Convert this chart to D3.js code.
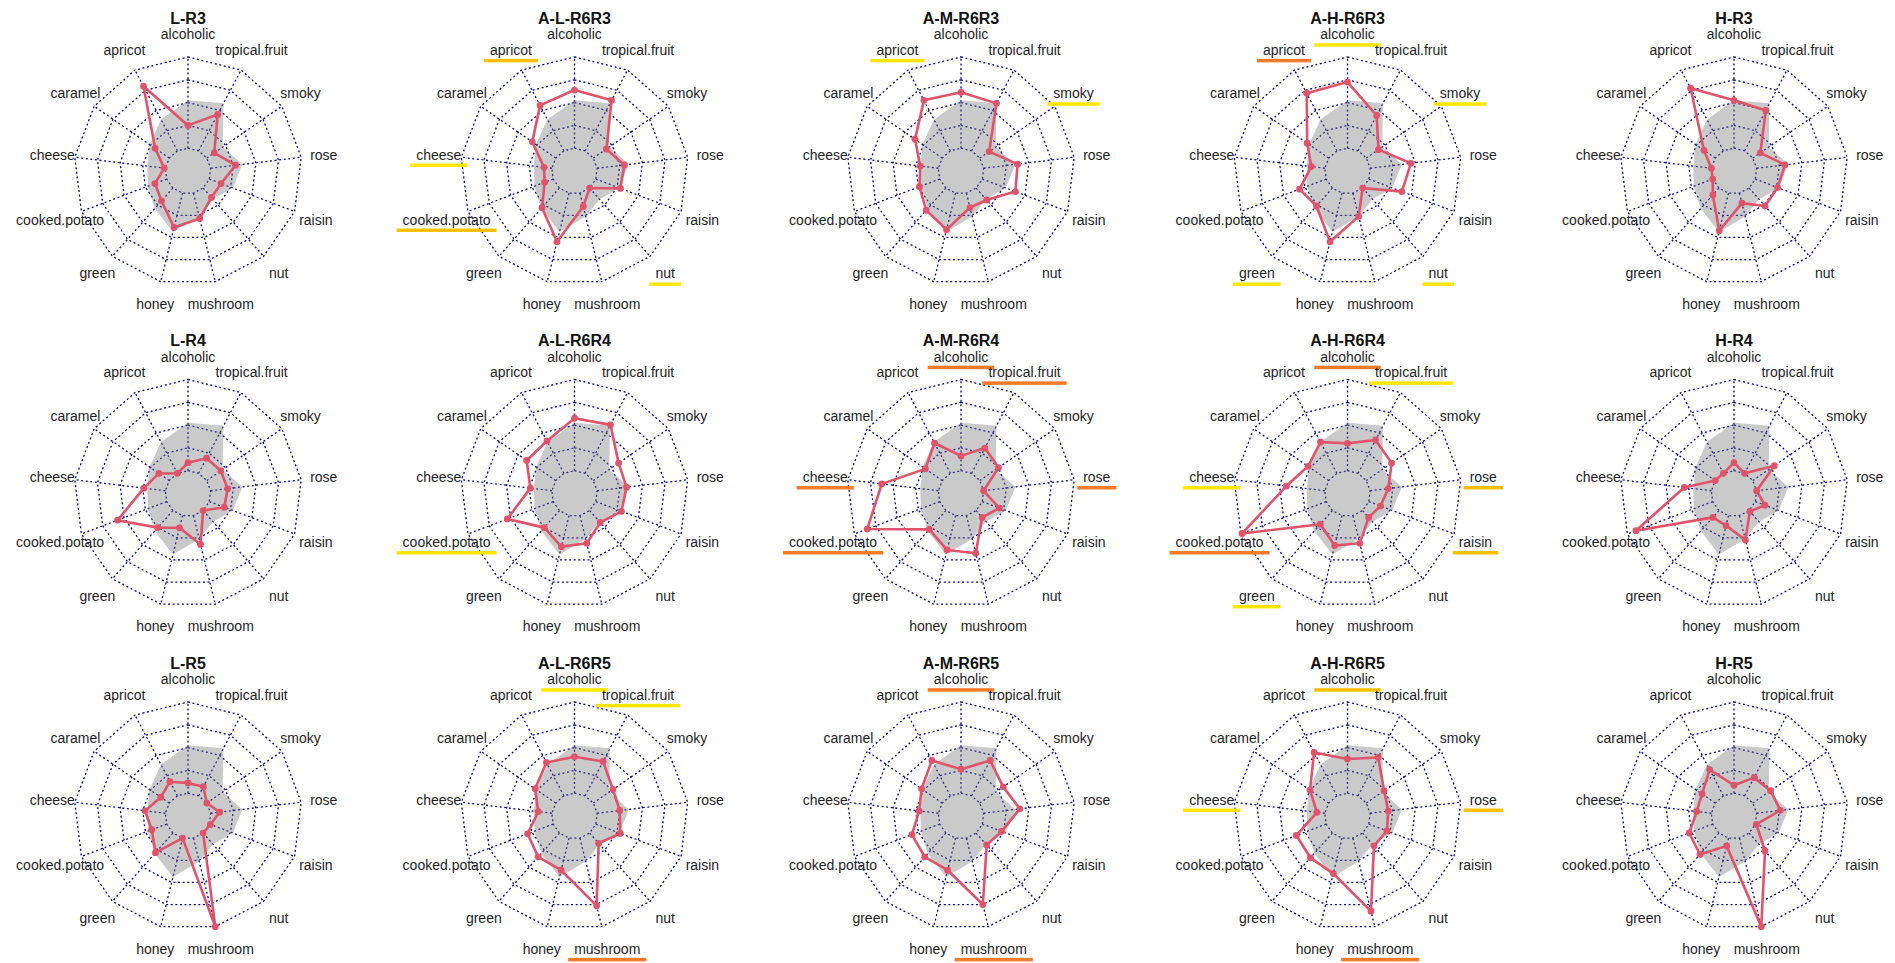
<!DOCTYPE html>
<html>
<head>
<meta charset="utf-8">
<script src="https://cdn.jsdelivr.net/npm/d3@7"></script>
<style>
  body { margin: 0; background: #fff; }
  text { font-family: "Liberation Sans", Arial, sans-serif; }
</style>
</head>
<body>
<svg width="1895" height="963"></svg>
<script>
// aroma axes, clockwise from the top
var axes = ["alcoholic", "tropical.fruit", "smoky", "rose", "raisin", "nut", "mushroom",
            "honey", "green", "cooked.potato", "cheese", "caramel", "apricot"];

var samples = ["L-R3", "A-L-R6R3", "A-M-R6R3", "A-H-R6R3", "H-R3",
               "L-R4", "A-L-R6R4", "A-M-R6R4", "A-H-R6R4", "H-R4",
               "L-R5", "A-L-R6R5", "A-M-R6R5", "A-H-R6R5", "H-R5"];

// grid levels (inner ring = 0, outer ring = 4)
var levels = [0, 1, 2, 3, 4];

// grey reference profile (same in every panel)
var reference = [2.1, 2.35, 0.85, 1.4, 1.1, 0.65, 1.05, 1.75, 1.2, 0.88, 0.8, 1.05, 1.55];

// red sample profiles
var lR3   = [1.0, 1.8, 0.4, 1.1, 0.55, 0.55, 1.15, 1.55, 0.75, 0.55, 0.05, 0.75, 3.2];
var alR3  = [2.55, 2.5, 0.7, 1.2, 1.15, 0.0, 0.6, 2.2, 1.15, 0.4, 0.35, 1.25, 2.25];
var amR3  = [2.45, 2.35, 0.5, 1.5, 1.55, 0.7, 0.65, 1.65, 1.3, 0.95, 0.8, 1.45, 2.5];
var ahR3  = [2.9, 1.75, 0.65, 1.8, 1.55, 0.0, 1.05, 2.2, 1.05, 1.25, 0.6, 1.15, 2.85];
var hR3   = [2.1, 2.0, 0.4, 1.25, 1.05, 1.05, 0.45, 1.7, 0.4, 0.0, 0.0, 0.6, 3.1];
var lR4   = [0.35, 0.75, 0.75, 0.75, 0.7, 0.0, 1.3, 0.55, 1.0, 2.3, 0.95, 0.55, 0.0];
var alR4  = [2.3, 2.4, 1.35, 1.3, 1.2, 0.7, 1.25, 1.4, 1.0, 2.15, 0.95, 1.55, 1.6];
var amR4  = [0.65, 1.25, 1.0, 0.0, 0.8, 0.4, 1.7, 1.55, 1.1, 3.4, 2.5, 0.9, 1.5];
var ahR4  = [1.2, 1.65, 1.35, 0.8, 0.55, 0.4, 1.25, 1.35, 0.8, 3.95, 1.7, 1.1, 1.55];
var hR4   = [0.35, 0.0, 1.15, 0.0, 0.45, 0.05, 1.1, 0.45, 0.4, 3.6, 1.2, 0.0, 0.0];
var lR5   = [0.45, 0.45, 0.0, 0.4, 0.05, 0.0, 4.0, 0.0, 1.15, 0.7, 0.9, 0.45, 0.7];
var alR5  = [1.6, 1.7, 1.05, 1.0, 1.15, 0.6, 3.05, 1.45, 1.4, 1.2, 0.6, 1.1, 1.65];
var amR5  = [1.05, 1.75, 1.25, 1.6, 0.9, 0.7, 3.0, 1.45, 1.4, 1.3, 0.85, 1.1, 1.75];
var ahR5  = [1.5, 1.9, 0.95, 0.8, 0.85, 0.75, 3.3, 1.6, 1.45, 1.4, 0.35, 1.0, 2.15];
var hR5   = [0.35, 0.9, 0.95, 1.05, 0.05, 1.05, 4.0, 0.35, 1.25, 1.1, 0.65, 0.7, 1.3];

var profiles = [lR3, alR3, amR3, ahR3, hR3, lR4, alR4, amR4, ahR4, hR4, lR5, alR5, amR5, ahR5, hR5];

// highlighted attributes: [panel, attribute, marker]
var highlights = [
  ["A-L-R6R3", "apricot", "gold"], ["A-L-R6R3", "cheese", "yellow"],
  ["A-L-R6R3", "cooked.potato", "gold"], ["A-L-R6R3", "nut", "yellow"],
  ["A-M-R6R3", "apricot", "yellow"], ["A-M-R6R3", "smoky", "yellow"],
  ["A-H-R6R3", "alcoholic", "yellow"], ["A-H-R6R3", "apricot", "orange"],
  ["A-H-R6R3", "smoky", "yellow"], ["A-H-R6R3", "green", "yellow"], ["A-H-R6R3", "nut", "yellow"],
  ["A-L-R6R4", "cooked.potato", "yellow"],
  ["A-M-R6R4", "alcoholic", "orange"], ["A-M-R6R4", "tropical.fruit", "orange"],
  ["A-M-R6R4", "rose", "orange"], ["A-M-R6R4", "cheese", "orange"], ["A-M-R6R4", "cooked.potato", "orange"],
  ["A-H-R6R4", "alcoholic", "orange"], ["A-H-R6R4", "tropical.fruit", "yellow"],
  ["A-H-R6R4", "cheese", "yellow"], ["A-H-R6R4", "rose", "gold"], ["A-H-R6R4", "raisin", "gold"],
  ["A-H-R6R4", "cooked.potato", "orange"], ["A-H-R6R4", "green", "yellow"],
  ["A-L-R6R5", "alcoholic", "yellow"], ["A-L-R6R5", "tropical.fruit", "yellow"], ["A-L-R6R5", "mushroom", "orange"],
  ["A-M-R6R5", "alcoholic", "orange"], ["A-M-R6R5", "mushroom", "orange"],
  ["A-H-R6R5", "alcoholic", "gold"], ["A-H-R6R5", "cheese", "yellow"],
  ["A-H-R6R5", "rose", "gold"], ["A-H-R6R5", "mushroom", "orange"]
];

var markerColor = {yellow: "#FFE600", gold: "#FFC000", orange: "#F47B2A"};

var svg = d3.select("svg"),
    R = 114;

// panel layout: 5 columns x 3 rows
var col = d3.scaleLinear().domain([0, 4]).range([188, 1734]),
    row = d3.scaleLinear().domain([0, 2]).range([171, 816]);

// radial scale, inner ring sits at 20% of the radius
var r = d3.scaleLinear().domain([0, 4]).range([0.2 * R, R]);
var angle = d3.scaleLinear().domain([0, axes.length]).range([0, 2 * Math.PI]);

var radial = d3.lineRadial()
    .angle(function(d, i) { return angle(i); })
    .radius(function(d) { return r(d); })
    .curve(d3.curveLinearClosed);

svg.append("rect").attr("width", 1895).attr("height", 963).attr("fill", "#fff");

samples.forEach(function(name, k) {
  var g = svg.append("g")
      .attr("transform", "translate(" + col(k % 5) + "," + row(Math.floor(k / 5)) + ")");

  // rings
  g.selectAll(".ring")
    .data(levels)
    .enter().append("path")
      .attr("class", "ring")
      .attr("d", function(l) { return radial(axes.map(function() { return l; })); })
      .attr("fill", "none")
      .attr("stroke", "#000080")
      .attr("stroke-width", 1.3)
      .attr("stroke-dasharray", "2,2.6");

  // spokes
  g.selectAll(".spoke")
    .data(axes)
    .enter().append("line")
      .attr("class", "spoke")
      .attr("x1", function(d, i) { return r(0) * Math.sin(angle(i)); })
      .attr("y1", function(d, i) { return -r(0) * Math.cos(angle(i)); })
      .attr("x2", function(d, i) { return r(4) * Math.sin(angle(i)); })
      .attr("y2", function(d, i) { return -r(4) * Math.cos(angle(i)); })
      .attr("stroke", "#000080")
      .attr("stroke-width", 1.3)
      .attr("stroke-dasharray", "2,2.6");

  // grey reference
  g.append("path")
      .attr("d", radial(reference))
      .attr("fill", "#7a7a7a")
      .attr("fill-opacity", 0.4)
      .attr("stroke", "none");

  // red sample
  var vals = profiles[k];
  g.append("path")
      .attr("d", radial(vals))
      .attr("fill", "none")
      .attr("stroke", "#DF536B")
      .attr("stroke-width", 2.6)
      .attr("stroke-linejoin", "round");

  g.selectAll(".dot")
    .data(vals)
    .enter().append("circle")
      .attr("class", "dot")
      .attr("cx", function(d, i) { return r(d) * Math.sin(angle(i)); })
      .attr("cy", function(d, i) { return -r(d) * Math.cos(angle(i)); })
      .attr("r", 3.4)
      .attr("fill", "#DF536B");

  // title
  g.append("text")
      .attr("y", -153)
      .attr("text-anchor", "middle")
      .attr("dominant-baseline", "central")
      .attr("font-size", 16)
      .attr("font-weight", "bold")
      .attr("fill", "#111")
      .text(name);

  // attribute labels
  var labels = g.selectAll(".lab")
    .data(axes)
    .enter().append("text")
      .attr("class", "lab")
      .attr("x", function(d, i) { return 1.2 * R * Math.sin(angle(i)); })
      .attr("y", function(d, i) { return -1.2 * R * Math.cos(angle(i)); })
      .attr("text-anchor", "middle")
      .attr("dominant-baseline", "central")
      .attr("font-size", 14)
      .attr("fill", "#1e1e1e")
      .text(function(d) { return d; });

  // highlight marks under labels
  highlights.filter(function(h) { return h[0] === name; }).forEach(function(h) {
    var i = axes.indexOf(h[1]);
    var node = labels.filter(function(d) { return d === h[1]; }).node();
    var w = node.getComputedTextLength();
    var lx = 1.2 * R * Math.sin(angle(i)),
        ly = -1.2 * R * Math.cos(angle(i));
    g.insert("rect", ".lab")
        .attr("x", lx - w / 2 - 6)
        .attr("y", ly + 9)
        .attr("width", w + 12)
        .attr("height", 3.5)
        .attr("fill", markerColor[h[2]]);
  });
});
</script>
</body>
</html>
